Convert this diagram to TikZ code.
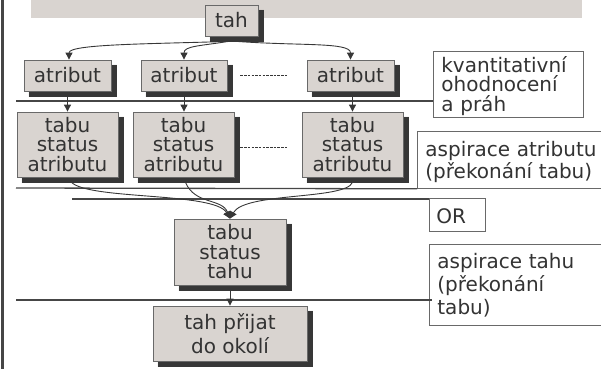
\documentclass[tikz,border=0pt]{standalone}
\usepackage{fontspec}
\setmainfont{DejaVu Sans}
\usetikzlibrary{arrows.meta}
\definecolor{boxfill}{RGB}{217,212,208}
\definecolor{bandc}{RGB}{217,212,208}
\definecolor{boxborder}{RGB}{105,105,105}
\definecolor{txt}{RGB}{51,51,51}
\definecolor{linec}{RGB}{70,70,70}
\definecolor{arrc}{RGB}{55,55,55}
\tikzset{
  gbox/.style={draw=boxborder, fill=boxfill, line width=0.8pt, inner sep=0pt,
    align=center, text=txt, font=\fontsize{20}{19.5}\selectfont},
  shadowline/.style={draw=arrc, line width=1.2pt, line cap=butt},
  lbox/.style={draw=boxborder, fill=white, line width=0.8pt, anchor=north west,
    inner ysep=0pt, inner xsep=8pt, align=left, text=txt},
  hline/.style={draw=linec, line width=1.3pt},
  arr/.style={draw=arrc, line width=0.9pt, -{Triangle[length=7pt,width=7pt]}},
  dline/.style={draw=arrc, line width=0.7pt, dash pattern=on 2.5pt off 1.2pt},
}
\begin{document}
\begin{tikzpicture}[x=1pt,y=-1pt]
\useasboundingbox (0,0) rectangle (601,369);
% left border and top band
\draw[linec, line width=2.5pt] (2.5,0) -- (2.5,369);
\fill[bandc] (31,0) rectangle (582,18.5);

% label boxes
\node[lbox, minimum width=150pt, text width=134pt, text height=21pt, text depth=45pt,
  font=\fontsize{20}{19.5}\selectfont] (kv) at (433,51) {kvantitativní\\ohodnocení\\a práh};
\node[lbox, minimum width=200pt, text width=184pt, text height=25pt, text depth=32pt,
  font=\fontsize{20}{22}\selectfont] (aa) at (417,131) {aspirace atributu\\(překonání tabu)};
\node[lbox, minimum width=56pt, inner xsep=7pt, text width=42pt, text height=25pt, text depth=8pt,
  font=\fontsize{20}{22}\selectfont] (or) at (429,198) {OR};
\node[lbox, minimum width=185pt, text width=169pt, text height=24pt, text depth=57pt,
  font=\fontsize{20}{23}\selectfont] (at) at (429,244) {aspirace tahu\\(překonání\\tabu)};

% horizontal rules
\coordinate (l1) at (16,101);
\coordinate (l2) at (16,188);
\coordinate (l3) at (72,199);
\coordinate (l4) at (16,300);
\draw[hline] (l1) -- (l1 -| kv.west);
\draw[hline] (l2) -- (aa.south west);
\draw[hline] (l3) -- (l3 -| or.west);
\draw[hline] (l4) -- ([xshift=3pt]l4 -| at.west);

% gray boxes
\node[gbox, minimum width=53pt, minimum height=31pt] (tah) at (231.5,20.5) {tah};
\node[gbox, minimum width=87pt, minimum height=31pt] (a1) at (67.5,75.5) {atribut};
\node[gbox, minimum width=86pt, minimum height=31pt] (a2) at (184,75.5) {atribut};
\node[gbox, minimum width=87pt, minimum height=31pt] (a3) at (350.5,75.5) {atribut};
\node[gbox, minimum width=101pt, minimum height=65pt] (t1) at (67.5,144.5) {tabu\\status\\atributu};
\node[gbox, minimum width=101pt, minimum height=65pt] (t2) at (183.5,144.5) {tabu\\status\\atributu};
\node[gbox, minimum width=101pt, minimum height=65pt] (t3) at (352.5,144.5) {tabu\\status\\atributu};
\node[gbox, minimum width=112pt, minimum height=66pt] (th) at (230,252) {tabu\\status\\tahu};
\node[gbox, minimum width=154pt, minimum height=55pt, font=\fontsize{20}{24}\selectfont] (tp) at (230,333.5) {tah přijat\\do okolí};

% drop shadows built from thin strokes along the right and bottom edges
\foreach \bx in {tah,a1,a2,a3,t1,t2,t3,th,tp}{
  \foreach \k in {1,2,3,4,4.8}{
    \draw[shadowline] ([xshift=\k pt,yshift=-5pt]\bx.north east) -- ([xshift=\k pt,yshift=-5.4pt]\bx.south east);
    \draw[shadowline] ([xshift=5pt,yshift=-\k pt]\bx.south west) -- ([xshift=5.4pt,yshift=-\k pt]\bx.south east);
  }
}

% dashed continuation marks
\draw[dline] ([xshift=13pt]a2.east) -- ([xshift=-20pt]a3.west);
\draw[dline] ([xshift=6pt,yshift=-2.5pt]t2.east) -- ([xshift=-15pt,yshift=-2.5pt]t3.west);

% arrows from tah
\draw[arr] ([xshift=-3pt,yshift=-5pt]tah.south) .. controls (150,44) and (69,44) .. ([xshift=1.5pt]a1.north);
\draw[arr] ([xshift=-3pt,yshift=-5pt]tah.south) .. controls (200,46) and (184,46) .. (a2.north);
\draw[arr] ([xshift=5pt,yshift=-5pt]tah.south) .. controls (300,46) and (350.5,42) .. (a3.north);

% atribut -> tabu
\draw[arr] ([yshift=-5pt]a1.south) -- (a1.south |- t1.north);
\draw[arr] ([yshift=-5pt]a2.south) -- (a2.south |- t2.north);
\draw[arr] ([yshift=-5pt]t3.north |- a3.south) -- (t3.north);

% tabu -> tabu status tahu
\draw[arr] ([xshift=4pt,yshift=-5pt]t1.south) .. controls (90,200) and (215,192) .. (th.north);
\draw[arr] ([xshift=2pt,yshift=-5pt]t2.south) .. controls (195,205) and (222,198) .. (th.north);
\draw[arr] ([yshift=-5pt]t3.south) .. controls (345,200) and (245,192) .. (th.north);

% tahu -> prijat
\draw[arr] ([yshift=-5pt]th.south) -- (tp.north);
\end{tikzpicture}
\end{document}
